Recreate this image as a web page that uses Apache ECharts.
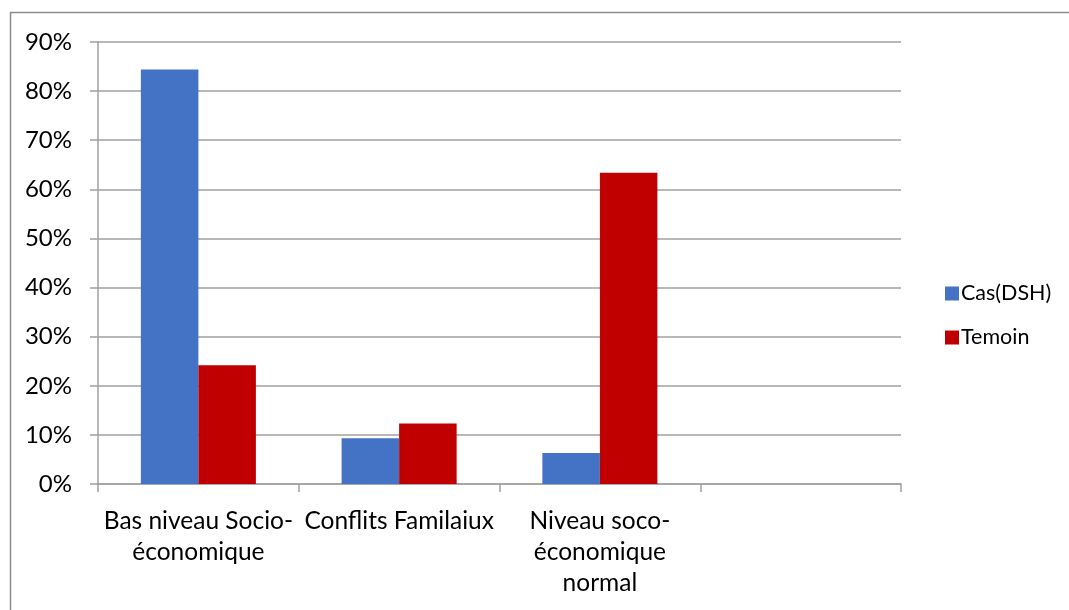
<!DOCTYPE html>
<html>
<head>
<meta charset="utf-8">
<script src="https://cdn.jsdelivr.net/npm/echarts@6/dist/echarts.min.js"></script>
<style>
  html, body { margin: 0; padding: 0; background: #fff; }
  #chart { width: 1069px; height: 610px; }
</style>
</head>
<body>
<div id="chart"></div>
<script>
// Categories (the last slot is intentionally empty)
const categories = ['Bas niveau Socio-\néconomique', 'Conflits Familaiux', 'Niveau soco-\néconomique\nnormal', ''];
// Percentages per group
const casDSH = [84.4, 9.3, 6.3, null];
const temoin = [24.2, 12.3, 63.4, null];
const seriesNames = ['Cas(DSH)', 'Temoin'];
const yTicks = { min: 0, max: 90, interval: 10 };

const FONT = 'Lato, "Open Sans", sans-serif';
const chart = echarts.init(document.getElementById('chart'), null, { renderer: 'canvas' });

chart.setOption({
  backgroundColor: '#ffffff',
  animation: false,
  textStyle: { fontFamily: FONT, color: '#000' },
  graphic: [{
    type: 'polyline',
    shape: { points: [[10.5, 610], [10.5, 12.5], [1069, 12.5]] },
    style: { stroke: '#8c8c8c', lineWidth: 1.5, fill: null },
    silent: true
  }],
  grid: { left: 98, right: 168, top: 42, bottom: 126, containLabel: false },
  legend: {
    orient: 'vertical',
    left: 940,
    top: 276,
    icon: 'rect',
    itemWidth: 14,
    itemHeight: 14,
    itemGap: 19,
    textStyle: { fontFamily: FONT, fontSize: 21.5, color: '#000', lineHeight: 25, padding: [0, 0, 0, -3] },
    data: seriesNames
  },
  xAxis: {
    type: 'category',
    data: categories,
    axisLine: { show: true, lineStyle: { color: '#a0a0a0', width: 1.5 } },
    axisTick: { show: true, length: 8, inside: false, alignWithLabel: false, lineStyle: { color: '#a0a0a0', width: 1.5 } },
    axisLabel: { interval: 0, margin: 22, fontFamily: FONT, fontSize: 24.5, lineHeight: 31, color: '#000' },
    splitLine: { show: false }
  },
  yAxis: {
    type: 'value',
    min: yTicks.min,
    max: yTicks.max,
    interval: yTicks.interval,
    axisLine: { show: true, lineStyle: { color: '#a0a0a0', width: 1.5 } },
    axisTick: { show: true, length: 8, lineStyle: { color: '#a0a0a0', width: 1.5 } },
    axisLabel: { margin: 26, fontFamily: FONT, fontSize: 24, color: '#000', formatter: v => v + '%' },
    splitLine: { show: true, lineStyle: { color: '#a0a0a0', width: 1.5 } }
  },
  series: [
    {
      name: seriesNames[0],
      type: 'bar',
      data: casDSH,
      barGap: '0%',
      barCategoryGap: '42.7%',
      itemStyle: { color: '#4472c4' }
    },
    {
      name: seriesNames[1],
      type: 'bar',
      data: temoin,
      barGap: '0%',
      barCategoryGap: '42.7%',
      itemStyle: { color: '#c00000' }
    }
  ]
});
</script>
</body>
</html>
